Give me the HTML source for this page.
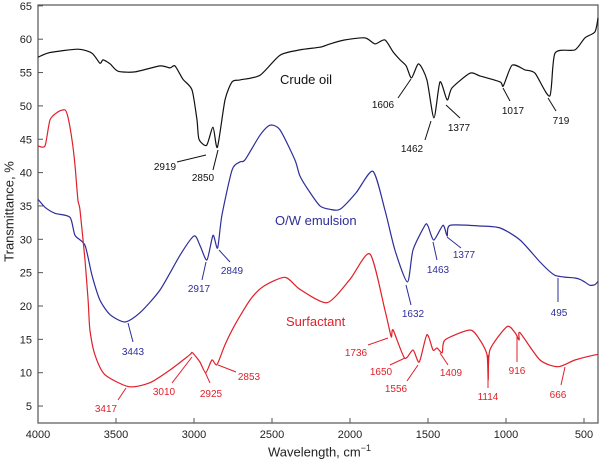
<!DOCTYPE html>
<html><head><meta charset="utf-8"><style>
body{margin:0;background:#fff}
svg{display:block;font-family:"Liberation Sans",Arial,sans-serif}
</style></head><body>
<svg id="c" width="602" height="461"></svg>
<script>
const xTicks=[4000,3500,3000,2500,2000,1500,1000,500];
const yTicks=[5,10,15,20,25,30,35,40,45,50,55,60,65];
const crudeWn=[4000,3923,3744,3654,3603,3583,3538,3487,3378,3218,3154,3122,3071,3013,2981,2968,2919,2878,2850,2801,2756,2705,2577,2449,2321,2192,2128,2032,1904,1840,1776,1724,1679,1640,1606,1560,1507,1462,1423,1377,1346,1231,1167,1038,1017,961,878,814,719,686,558,494,430,410];
const crudeT=[57.3,58.0,58.5,57.9,56.4,56.9,56.3,55.2,55.1,56.0,55.7,56.0,54.0,52.4,47.9,45.0,44.1,46.8,43.8,50.9,53.6,53.9,54.6,57.6,58.4,58.8,59.3,59.9,60.2,59.3,59.9,58.1,56.9,56.0,54.2,56.3,53.9,48.2,53.6,50.9,52.7,54.9,54.5,53.6,53.0,56.1,55.4,54.9,51.5,57.9,58.4,60.2,61.1,63.2];
const emulWn=[4000,3955,3891,3795,3763,3699,3654,3603,3538,3443,3346,3218,3090,3000,2962,2917,2878,2849,2821,2756,2705,2673,2577,2513,2449,2353,2321,2256,2192,2128,2064,1960,1853,1776,1712,1632,1596,1519,1500,1463,1404,1377,1359,1167,1038,910,782,686,558,526,495,462,430,410];
const emulT=[36.0,34.8,33.9,33.3,30.6,29.1,24.6,20.9,18.7,17.6,19.0,22.4,27.6,30.5,29.1,26.9,30.6,28.7,33.6,40.4,41.6,41.9,45.6,47.1,46.4,41.9,39.5,37.0,35.0,34.5,34.5,37.0,40.2,34.4,28.4,23.6,28.4,32.1,32.0,29.9,32.1,30.5,32.1,32.0,31.7,29.9,26.6,24.6,24.2,24.0,23.6,23.1,23.2,23.7];
const surfWn=[4000,3955,3923,3872,3827,3808,3782,3763,3744,3731,3699,3679,3667,3635,3571,3417,3282,3154,3026,3010,2962,2925,2885,2853,2801,2737,2641,2558,2417,2321,2147,2000,1872,1776,1736,1724,1650,1596,1556,1507,1468,1442,1409,1391,1231,1167,1122,1114,1103,994,942,916,910,782,666,558,423,410];
const surfT=[44.0,44.0,47.9,49.1,49.4,48.3,44.9,41.1,35.9,34.4,26.9,20.9,16.4,12.7,9.7,7.9,8.5,10.4,12.7,13.0,11.6,10.0,11.9,11.2,14.2,17.2,20.9,22.9,24.3,22.5,20.5,24.0,27.8,19.4,15.4,16.4,12.2,13.4,11.6,15.7,13.4,13.7,13.0,14.9,16.4,14.9,12.7,8.9,13.4,16.9,16.0,14.9,16.0,11.9,10.9,11.9,12.7,12.7];
const X=w=>38+(4000-w)*0.156;
const Y=t=>439.4-t*6.67;
const svg=document.getElementById('c');
const NS='http://www.w3.org/2000/svg';
function mk(tag,attrs,parent){const e=document.createElementNS(NS,tag);for(const k in attrs)e.setAttribute(k,attrs[k]);(parent||svg).appendChild(e);return e;}
const frame=mk('rect',{x:38,y:5,width:560,height:418,fill:'none',stroke:'#555','stroke-width':1.2});


xTicks.forEach(v=>{
  const t=mk('line',{x1:X(v),x2:X(v),y1:423,y2:418,stroke:'#555'});
  
  
  const l=mk('text',{x:X(v),y:438,'text-anchor':'middle','font-size':11,fill:'#222'});
  l.textContent=v;
  
  
});
yTicks.forEach(v=>{
  const t=mk('line',{x1:38,x2:43,y1:Y(v),y2:Y(v),stroke:'#555'});
  
  
  const l=mk('text',{x:32,y:Y(v)+4,'text-anchor':'end','font-size':11,fill:'#222'});
  l.textContent=v;
  
  
});
function series(wn,t,color,name){
  const P=wn.map((w,i)=>[X(w),Y(t[i])]);
  let d='M'+P[0][0].toFixed(1)+','+P[0][1].toFixed(1);
  const k=0.12;
  for(let i=0;i<P.length-1;i++){
    const p0=P[Math.max(0,i-1)],p1=P[i],p2=P[i+1],p3=P[Math.min(P.length-1,i+2)];
    const c1=[p1[0]+(p2[0]-p0[0])*k,p1[1]+(p2[1]-p0[1])*k];
    const c2=[p2[0]-(p3[0]-p1[0])*k,p2[1]-(p3[1]-p1[1])*k];
    d+='C'+c1.map(v=>v.toFixed(1)).join(',')+' '+c2.map(v=>v.toFixed(1)).join(',')+' '+p2[0].toFixed(1)+','+p2[1].toFixed(1);
  }
  const p=mk('path',{d:d,fill:'none',stroke:color,'stroke-width':1.2,'stroke-linejoin':'round'});
  
  
}
series(crudeWn,crudeT,'#111','crude-oil-line');
series(emulWn,emulT,'#2e2e9a','emulsion-line');
series(surfWn,surfT,'#e0202a','surfactant-line');
const notes=[
 ['2919',165,170,177,162,206,155,'#111'],['2850',203,181,213,170,218,150,'#111'],
 ['1606',383,108,398,98,411,79,'#111'],['1462',412,152,425,140,431,121,'#111'],
 ['1377',459,131,446,105,460,118,'#111'],['1017',513,114,503,88,510,101,'#111'],
 ['719',561,124,548,98,556,111,'#111'],
 ['2917',199,292,202,280,206,262,'#2e2e9a'],['2849',232,274,219,250,230,262,'#2e2e9a'],
 ['3443',133,355,128,323,133,342,'#2e2e9a'],['1632',413,317,406,285,411,305,'#2e2e9a'],
 ['1463',438,273,433,242,437,260,'#2e2e9a'],['1377',464,258,447,237,461,248,'#2e2e9a'],
 ['495',559,316,558,278,558,302,'#2e2e9a'],
 ['3417',106,412,118,400,126,388,'#e0202a'],['3010',164,395,172,383,192,357,'#e0202a'],
 ['2925',211,397,210,383,205,372,'#e0202a'],['2853',249,380,236,372,218,365,'#e0202a'],
 ['1736',356,356,368,345,388,338,'#e0202a'],['1650',381,375,390,365,405,358,'#e0202a'],
 ['1556',396,392,407,381,418,365,'#e0202a'],['1409',451,376,448,365,440,353,'#e0202a'],
 ['1114',488,400,488,388,488,355,'#e0202a'],['916',517,374,517,362,517,335,'#e0202a'],
 ['666',558,398,561,385,565,367,'#e0202a']];
notes.forEach(n=>{
  const l=mk('line',{x1:n[3],y1:n[4],x2:n[5],y2:n[6],stroke:n[7],'stroke-width':1});
  
  
  const t=mk('text',{x:n[1],y:n[2],'text-anchor':'middle','font-size':10,fill:n[7]});
  t.textContent=n[0];
  
  
});
</script>
<div style="position:absolute;left:0;top:0;width:602px;height:461px;pointer-events:none;font-family:'Liberation Sans',Arial,sans-serif">
<div style="position:absolute;left:280px;top:72px;font-size:13px;color:#111">Crude oil</div>
<div style="position:absolute;left:275px;top:213px;font-size:13px;color:#2e2e9a">O/W emulsion</div>
<div style="position:absolute;left:286px;top:314px;font-size:13px;color:#e0202a">Surfactant</div>
<div style="position:absolute;left:268px;top:443px;font-size:13px;color:#222">Wavelength, cm<sup style="font-size:9px">−1</sup></div>
<div style="position:absolute;left:-46px;top:204px;width:110px;text-align:center;font-size:13px;color:#222;transform:rotate(-90deg)">Transmittance, %</div>
</div>
</body></html>
